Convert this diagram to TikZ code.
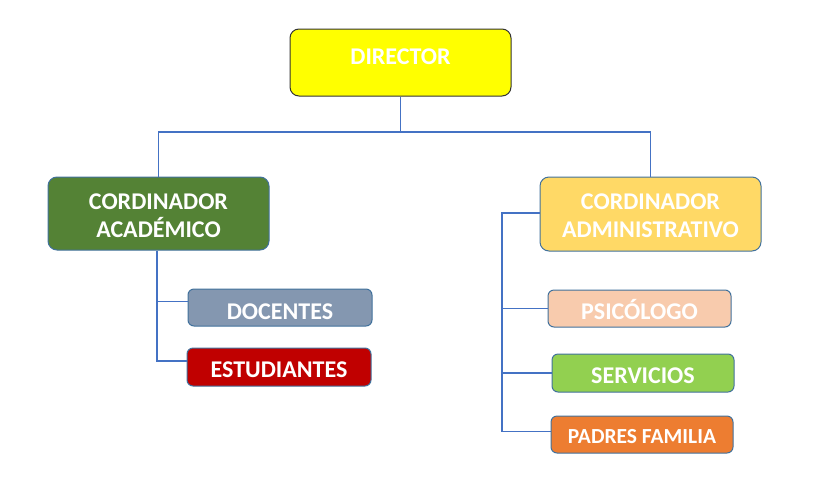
\documentclass[tikz,border=0pt]{standalone}
\usepackage{fontspec}
\setmainfont{Carlito}
\definecolor{conncol}{HTML}{4472C4}
\definecolor{bordcol}{HTML}{41719C}
\definecolor{dirfill}{HTML}{FFFF00}
\definecolor{acafill}{HTML}{548235}
\definecolor{admfill}{HTML}{FFD966}
\definecolor{docfill}{HTML}{8497B0}
\definecolor{estfill}{HTML}{C00000}
\definecolor{psifill}{HTML}{F8CBAD}
\definecolor{serfill}{HTML}{92D050}
\definecolor{padfill}{HTML}{ED7D31}
\tikzset{
  bigbox/.style={draw=bordcol, line width=1pt, rounded corners=9pt, minimum width=221pt, inner sep=0pt},
  smallbox/.style={draw=bordcol, line width=1pt, rounded corners=6pt, minimum width=183pt, minimum height=37pt, inner sep=0pt},
  lbl/.style={text=white, font=\bfseries\fontsize{24}{28}\selectfont, align=center, inner sep=0pt},
  conn/.style={draw=conncol, line width=1.8pt}
}
\begin{document}
\begin{tikzpicture}[x=1pt,y=-1pt]
\useasboundingbox (0,0) rectangle (821,501);
% boxes
\node[bigbox, draw=black!80, fill=dirfill, minimum height=67pt] (dir) at (400.5,62.5) {};
\node[bigbox, fill=acafill, minimum height=73pt] (aca) at (158.5,213.5) {};
\node[bigbox, fill=admfill, minimum height=74pt] (adm) at (650.5,214) {};
\node[smallbox, fill=docfill, minimum width=184pt] (doc) at (280,307.5) {};
\node[smallbox, fill=estfill, minimum width=184pt, minimum height=38pt] (est) at (279,367) {};
\node[smallbox, fill=psifill] (psi) at (639.5,308.5) {};
\node[smallbox, fill=serfill, minimum width=182pt, minimum height=38pt] (ser) at (643,373) {};
\node[smallbox, fill=padfill, minimum width=182pt] (pad) at (642,434.5) {};
% texts
\node[lbl, anchor=base] (tdir) at (400.5,64.5) {DIRECTOR};
\node[lbl, anchor=base] (taca1) at (158.5,209.5) {CORDINADOR};
\node[lbl, anchor=base] (taca2) at (158.5,237.5) {ACADÉMICO};
\node[lbl, anchor=base] (tadm1) at (650.5,209.5) {CORDINADOR};
\node[lbl, anchor=base] (tadm2) at (650.5,237.5) {ADMINISTRATIVO};
\node[lbl, anchor=base] (tdoc) at (280,319) {DOCENTES};
\node[lbl, anchor=base] (test) at (279,377.5) {ESTUDIANTES};
\node[lbl, anchor=base] (tpsi) at (639.5,319.5) {PSICÓLOGO};
\node[lbl, anchor=base] (tser) at (643,383.5) {SERVICIOS};
\node[lbl, anchor=base, font=\bfseries\fontsize{21.5}{25}\selectfont] (tpad) at (642,443.5) {PADRES FAMILIA};
% connectors
\coordinate (hub) at (400.5,132);
\draw[conn] (dir.south) -- (hub);
\draw[conn] (aca.north) -- (aca.north |- hub) -- (adm.north |- hub) -- (adm.north);
\coordinate (lbus) at (157,0);
\coordinate (docin) at ([yshift=6pt]doc.west);
\coordinate (estin) at ([yshift=6pt]est.west);
\draw[conn] (aca.south -| lbus) |- (estin);
\draw[conn] (lbus |- docin) -- (docin);
\coordinate (rbus) at (502,0);
\coordinate (admout) at ([yshift=1pt]adm.west);
\coordinate (padin) at ([yshift=3pt]pad.west);
\draw[conn] (admout) -| (rbus |- padin) -- (padin);
\draw[conn] (rbus |- psi.west) -- (psi.west);
\draw[conn] (rbus |- ser.west) -- (ser.west);
\end{tikzpicture}
\end{document}
